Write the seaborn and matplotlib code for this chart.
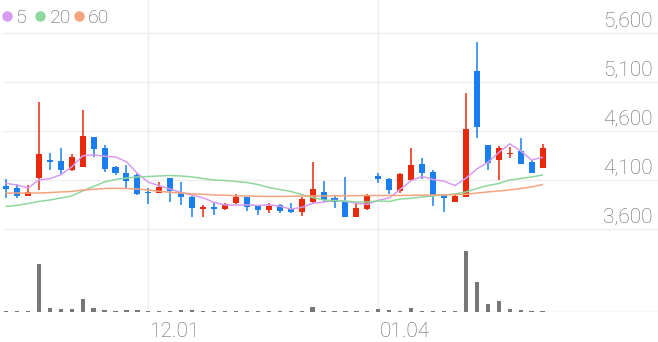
import numpy as np
import pandas as pd
import matplotlib
matplotlib.use("Agg")
import matplotlib.pyplot as plt
import seaborn as sns

# ---------------- data ----------------
dates = ["11.14", "11.15", "11.16", "11.17", "11.20", "11.21", "11.22", "11.23", "11.24", "11.27",
         "11.28", "11.29", "11.30", "12.01", "12.04", "12.05", "12.06", "12.07", "12.08", "12.11",
         "12.12", "12.13", "12.14", "12.15", "12.18", "12.19", "12.20", "12.21", "12.22", "12.26",
         "12.27", "12.28", "01.02", "01.03", "01.04", "01.05", "01.08", "01.09", "01.10", "01.11",
         "01.12", "01.15", "01.16", "01.17", "01.18", "01.19", "01.22", "01.23", "01.24", "01.25"]
opens = [4042, 4021, 3937, 4117, 4304, 4294, 4202, 4236, 4536, 4423,
         4230, 4174, 4151, 3981, 3970, 4117, 3981, 3930, 3807, 3828,
         3801, 3862, 3923, 3835, 3794, 3845, 3801, 3777, 3879, 3981,
         3913, 3889, 3726, 3801, 4141, 4107, 3991, 4100, 4260, 4179,
         3947, 3879, 3930, 5212, 4457, 4304, 4362, 4396, 4287, 4226]
highs = [4107, 4056, 4049, 4893, 4372, 4423, 4365, 4814, 4536, 4457,
         4243, 4253, 4168, 4015, 4077, 4123, 4077, 3937, 3845, 3862,
         3862, 3954, 3923, 3845, 3862, 3852, 3868, 3930, 4287, 4090,
         3947, 4134, 3868, 3954, 4174, 4117, 4168, 4423, 4328, 4202,
         3954, 3947, 4985, 5505, 4457, 4447, 4440, 4526, 4304, 4464]
lows = [3913, 3913, 3937, 3998, 4202, 4151, 4192, 4236, 4332, 4185,
        4151, 4005, 3947, 3855, 3964, 3879, 3845, 3726, 3726, 3743,
        3794, 3852, 3787, 3743, 3766, 3766, 3760, 3733, 3862, 3879,
        3811, 3726, 3726, 3794, 4072, 3957, 3970, 4100, 4110, 3838,
        3777, 3879, 3930, 4526, 4202, 4100, 4321, 4260, 4174, 4226]
closes = [4005, 3937, 3981, 4365, 4284, 4202, 4332, 4552, 4413, 4209,
          4168, 4090, 3954, 3964, 4032, 3988, 3930, 3811, 3828, 3801,
          3855, 3923, 3828, 3794, 3838, 3784, 3777, 3906, 4005, 3896,
          3879, 3726, 3811, 3944, 4107, 3998, 4161, 4253, 4168, 3947,
          3913, 3940, 4620, 4644, 4277, 4423, 4379, 4260, 4174, 4423]
volumes = [40, 40, 52, 1908, 172, 132, 120, 520, 148, 92,
           40, 68, 68, 40, 52, 52, 80, 68, 52, 52,
           44, 44, 44, 44, 44, 44, 44, 44, 200, 44,
           40, 40, 40, 40, 120, 68, 52, 160, 44, 40,
           40, 40, 2440, 1188, 320, 428, 132, 80, 52, 40]
ma5 = [4066, 4049, 4018, 4100, 4114, 4154, 4233, 4347, 4357, 4342,
       4335, 4286, 4167, 4077, 4042, 4006, 3974, 3945, 3918, 3872,
       3845, 3844, 3847, 3840, 3848, 3833, 3804, 3820, 3862, 3874,
       3893, 3882, 3863, 3851, 3893, 3917, 4004, 4093, 4137, 4105,
       4088, 4044, 4118, 4213, 4279, 4381, 4469, 4397, 4303, 4332]
ma20 = [3830, 3840, 3860, 3881, 3896, 3916, 3937, 3988, 4034, 4080,
        4105, 4120, 4131, 4136, 4141, 4146, 4141, 4131, 4115, 4100,
        4095, 4085, 4074, 4054, 4023, 4003, 3983, 3952, 3921, 3896,
        3889, 3886, 3876, 3876, 3886, 3881, 3906, 3913, 3927, 3937,
        3947, 3957, 3978, 4013, 4044, 4064, 4100, 4115, 4131, 4151]
ma60 = [3967, 3967, 3967, 3967, 3972, 3978, 3983, 3998, 4005, 4013,
        4015, 4013, 4008, 3998, 3985, 3974, 3967, 3959, 3954, 3947,
        3944, 3939, 3937, 3934, 3932, 3932, 3934, 3937, 3937, 3937,
        3939, 3940, 3940, 3942, 3942, 3942, 3942, 3944, 3945, 3947,
        3949, 3951, 3954, 3967, 3978, 3988, 3998, 4013, 4029, 4054]
price_ticks = [3600, 4100, 4600, 5100, 5600]
date_ticks = ["12.01", "01.04"]
ma_names = ["5", "20", "60"]

# ---------------- style ----------------
RED = "#e8290b"
BLUE = "#1a7ef0"
MA_COLORS = {"5": "#d79cf0", "20": "#8ed89e", "60": "#f6a47e"}
GRID = "#eeeeee"
TXT = "#666666"

sns.set_theme(style="white")
plt.rcParams["font.family"] = ["Roboto", "DejaVu Sans"]

W, H = 658, 342
fig = plt.figure(figsize=(W / 100, H / 100), dpi=100)


def px_axes(x0, y0, x1, y1):
    return fig.add_axes([x0 / W, 1 - y1 / H, (x1 - x0) / W, (y1 - y0) / H])


ax = px_axes(3, 0, 658, 240)
axv = px_axes(3, 240, 658, 312)

df = pd.DataFrame({"date": dates, "open": opens, "high": highs, "low": lows,
                   "close": closes, "volume": volumes,
                   "5": ma5, "20": ma20, "60": ma60})
df["i"] = np.arange(len(df))
up = df["close"] >= df["open"]
cols = np.where(up, RED, BLUE)

# gridlines
for p in price_ticks:
    ax.axhline(p, color=GRID, lw=1.0, zorder=0)
tick_idx = [dates.index(d) for d in date_ticks]
for t in tick_idx:
    ax.axvline(t, color=GRID, lw=1.0, zorder=0)
    axv.axvline(t, color=GRID, lw=1.0, zorder=0)

# candles
ax.vlines(df["i"], df["low"], df["high"], colors=cols, lw=1.1, zorder=3)
body = (df["close"] - df["open"]).abs().clip(lower=12)
ax.bar(df["i"], body, bottom=np.minimum(df["open"], df["close"]),
       width=0.55, color=cols, linewidth=0, zorder=4)

# moving averages
long = df.melt(id_vars="i", value_vars=ma_names, var_name="ma", value_name="v")
sns.lineplot(data=long, x="i", y="v", hue="ma", palette=MA_COLORS,
             ax=ax, legend=False, lw=1.1, zorder=5)

# volume
sns.barplot(data=df, x="i", y="volume", ax=axv, color="#777777",
            native_scale=True, width=0.39, errorbar=None, saturation=1,
            linewidth=0, zorder=3)
axv.axhline(0, color="#dddddd", lw=1.0, zorder=2)

# scales
pxu = 10.95
xl = -(6 - 3) / pxu
xr = xl + 655 / pxu
for a in (ax, axv):
    a.set_xlim(xl, xr)
    a.set_xlabel("")
    a.set_ylabel("")
    a.set_xticks([])
    a.set_yticks([])
    for s in a.spines.values():
        s.set_visible(False)
    a.set_facecolor("none")
k = 0.098
ax.set_ylim(3600 - 11 / k, 3600 + 229 / k)
axv.set_ylim(0, 72 * 40)

# price labels
for p in price_ticks:
    ax.annotate(f"{p:,}", xy=(1, p), xycoords=("axes fraction", "data"),
                xytext=(-5, 6), textcoords="offset pixels", ha="right",
                va="baseline", fontsize=15, color=TXT, fontweight="light")
# date labels
for t, lab in zip(tick_idx, date_ticks):
    axv.annotate(lab, xy=(t, 0), xycoords=("data", "axes fraction"),
                 xytext=(1, -25), textcoords="offset pixels", ha="left",
                 va="baseline", fontsize=15, color=TXT, fontweight="light")

# legend
leg_x = [7, 40, 79]
txt_x = [15.5, 49.5, 88]
for name, cx, tx in zip(ma_names, leg_x, txt_x):
    fig.lines.append(plt.Line2D([cx / W], [1 - 16 / H], marker="o", ms=6.5,
                                color=MA_COLORS[name], lw=0,
                                transform=fig.transFigure))
    fig.text(tx / W, 1 - 23.3 / H, name, ha="left", va="baseline",
             fontsize=14, color="#555555", fontweight="light")

fig.savefig("out.png", dpi=100, facecolor="white")
